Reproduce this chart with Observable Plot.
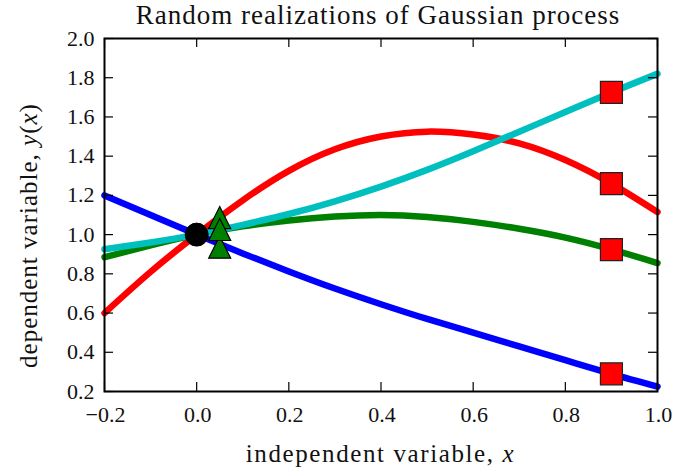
<!DOCTYPE html>
<html><head><meta charset="utf-8">
<script src="https://cdn.jsdelivr.net/npm/d3@7"></script>
<script src="https://cdn.jsdelivr.net/npm/@observablehq/plot@0.6"></script>
<style>
body{margin:0;background:#fff;font-family:"Liberation Serif",serif;}
#title{box-sizing:border-box;width:676px;height:18px;overflow:visible;padding:0 24px 0 104px;text-align:center;font-size:27px;line-height:30px;letter-spacing:1px;color:#111;white-space:nowrap;position:relative;z-index:1;}
#chart svg{display:block;}
</style></head><body>
<div id="title">Random realizations of Gaussian process</div>
<div id="chart"></div>
<script>
// sample positions
const xs = [-0.2,-0.1,0.0,0.1,0.2,0.3,0.4,0.5,0.6,0.7,0.8,0.9,1.0];
// four random realizations
const blueY  = [1.20,1.10,1.00,0.904,0.812,0.725,0.645,0.57,0.50,0.43,0.36,0.29,0.225];
const redY   = [0.60,0.81,1.00,1.175,1.325,1.435,1.50,1.525,1.51,1.465,1.38,1.26,1.115];
const greenY = [0.885,0.945,1.00,1.042,1.072,1.092,1.10,1.09,1.065,1.03,0.985,0.925,0.855];
const cyanY  = [0.925,0.96,1.00,1.05,1.105,1.17,1.245,1.33,1.425,1.525,1.625,1.725,1.82];
// markers
const circleX = [0.0];  const circleY = [1.0];
const triX = [0.05,0.05,0.05]; const triY = [1.087,0.936,1.026];
const sqX = [0.9,0.9,0.9,0.9]; const sqY = [1.725,1.26,0.923,0.29];
// ticks
const xTicks = [-0.2,0.0,0.2,0.4,0.6,0.8,1.0];
const yTicks = [0.2,0.4,0.6,0.8,1.0,1.2,1.4,1.6,1.8,2.0];

const rows = ys => xs.map((x, i) => ({x, y: ys[i]}));
const circles = circleX.map((x, i) => ({x, y: circleY[i]}));
const tris = triX.map((x, i) => ({x, y: triY[i]}));
const squares = sqX.map((x, i) => ({x, y: sqY[i]}));

const mplTriangle = {draw(ctx, size){ const s = Math.sqrt(size/Math.PI); ctx.moveTo(0,-s); ctx.lineTo(s,s); ctx.lineTo(-s,s); ctx.closePath(); }};
const mplSquare = {draw(ctx, size){ const s = Math.sqrt(size/Math.PI); ctx.rect(-s,-s,2*s,2*s); }};

const W = 676, H = 454, mL = 104, mR = 19, mT = 20, mB = 81;
const fw = W - mL - mR, fh = H - mT - mB, tl = 9;
const fmt = d3.format(".1f");
const lw = 6.5;

const svg = Plot.plot({
  width: W, height: H, marginLeft: mL, marginRight: mR, marginTop: mT, marginBottom: mB,
  style: {fontFamily: "Liberation Serif, serif", fontSize: "22px", color: "#111", background: "transparent", overflow: "visible"},
  x: {domain: [-0.2, 1.0]},
  y: {domain: [0.2, 2.0]},
  marks: [
    Plot.line(rows(blueY),  {x: "x", y: "y", stroke: "#0000ff", strokeWidth: lw, curve: "natural"}),
    Plot.line(rows(redY),   {x: "x", y: "y", stroke: "#ff0000", strokeWidth: lw, curve: "natural"}),
    Plot.line(rows(greenY), {x: "x", y: "y", stroke: "#008000", strokeWidth: lw, curve: "natural"}),
    Plot.line(rows(cyanY),  {x: "x", y: "y", stroke: "#00bfbf", strokeWidth: lw, curve: "natural"}),
    Plot.dot(circles, {x: "x", y: "y", r: 11.5, fill: "black", stroke: "black", strokeWidth: 1}),
    Plot.dot(tris, {x: "x", y: "y", r: 11, symbol: mplTriangle, fill: "#008000", stroke: "black", strokeWidth: 1.2}),
    Plot.dot(squares, {x: "x", y: "y", r: 11, symbol: mplSquare, fill: "#ff0000", stroke: "#222", strokeWidth: 1.2}),
    Plot.tickX(xTicks, {x: d => d, insetTop: fh - tl, stroke: "black", strokeWidth: 1.2}),
    Plot.tickX(xTicks, {x: d => d, insetBottom: fh - tl, stroke: "black", strokeWidth: 1.2}),
    Plot.tickY(yTicks, {y: d => d, insetRight: fw - tl, stroke: "black", strokeWidth: 1.2}),
    Plot.tickY(yTicks, {y: d => d, insetLeft: fw - tl, stroke: "black", strokeWidth: 1.2}),
    Plot.axisX({ticks: xTicks, tickSize: 0, tickPadding: 15, tickFormat: fmt, label: null, fontSize: 22, letterSpacing: 2, dx: 1}),
    Plot.axisY({ticks: yTicks, tickSize: 0, tickPadding: 10, tickFormat: fmt, label: null, fontSize: 22, letterSpacing: 2}),
    Plot.frame({stroke: "black", strokeWidth: 2})
  ]
});

const g = d3.select(svg);
const xl = g.append("text").attr("x", mL + fw/2).attr("y", H - 10).attr("text-anchor", "middle")
  .attr("font-size", 25).attr("fill", "#111").attr("letter-spacing", 1.6);
xl.append("tspan").text("independent variable, ");
xl.append("tspan").attr("font-style", "italic").text("x");
const yl = g.append("text").attr("transform", `translate(37,${mT + fh/2 + 21}) rotate(-90)`).attr("text-anchor", "middle")
  .attr("font-size", 25).attr("fill", "#111").attr("letter-spacing", 1.0);
yl.append("tspan").text("dependent variable, ");
yl.append("tspan").attr("font-style", "italic").text("y");
yl.append("tspan").text("(");
yl.append("tspan").attr("font-style", "italic").text("x");
yl.append("tspan").text(")");

document.getElementById("chart").appendChild(svg);
</script>
</body></html>
